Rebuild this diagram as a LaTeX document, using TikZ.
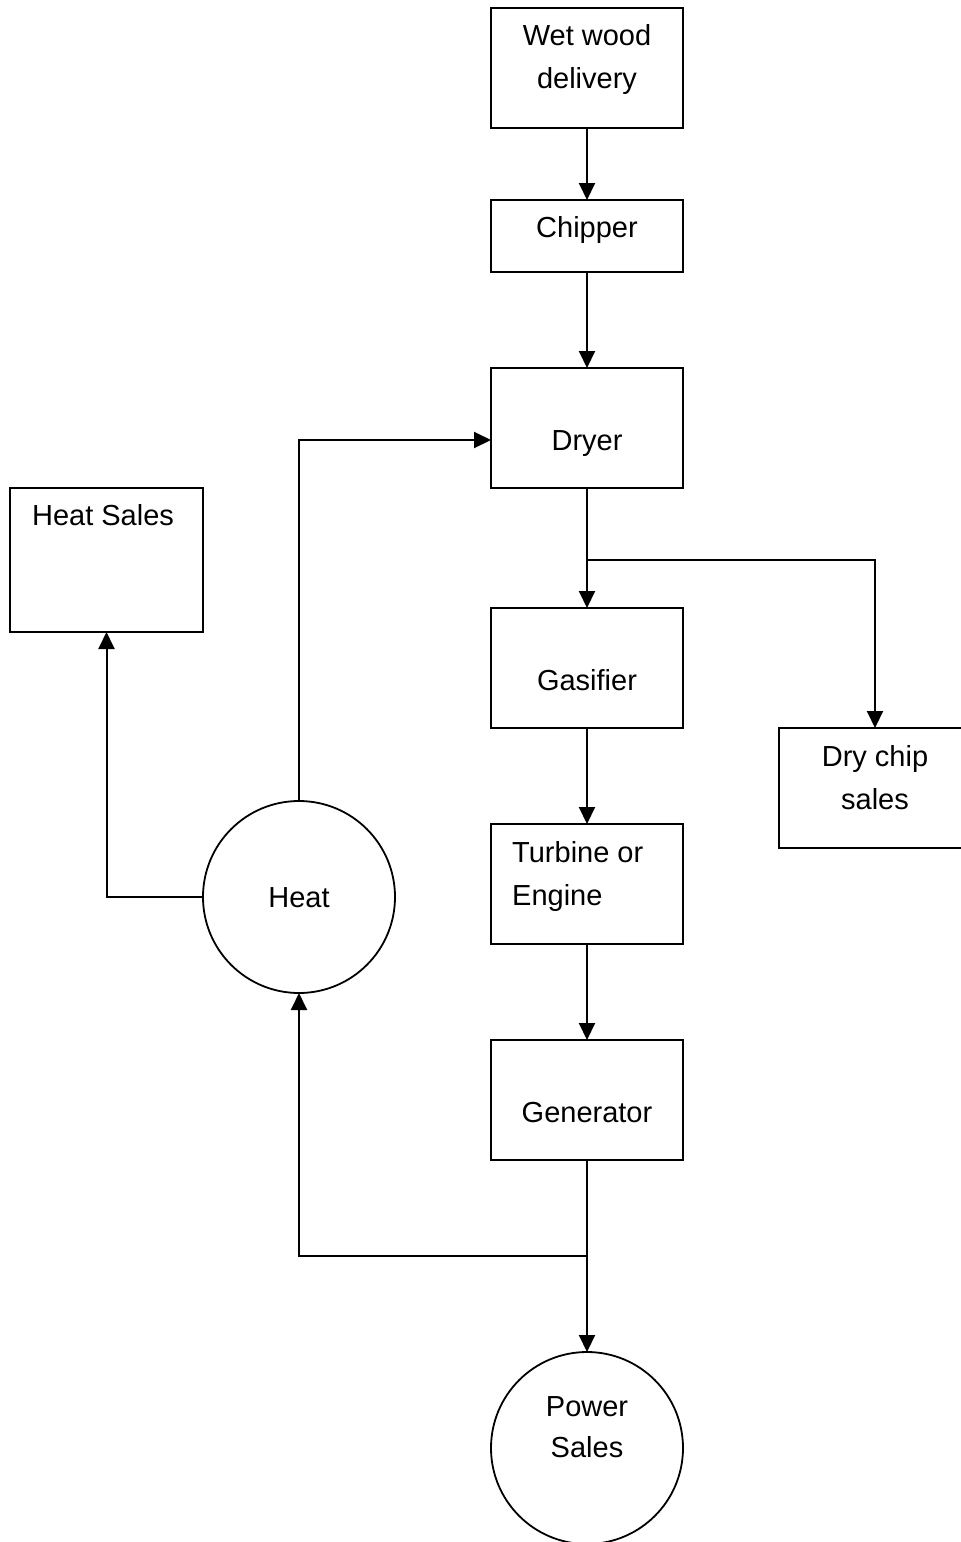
\documentclass[tikz,border=0pt]{standalone}
\usepackage{fontspec}
\setmainfont{Liberation Sans}
\usetikzlibrary{arrows.meta,calc}
\begin{document}
\begin{tikzpicture}[x=1pt,y=-1pt,
  every node/.style={font=\fontsize{29}{43.5}\selectfont},
  box/.style={draw,line width=2pt,rectangle,inner sep=0pt,outer sep=0pt,minimum width=192pt},
  circ/.style={draw,line width=1.8pt,circle,inner sep=0pt,outer sep=0pt,minimum size=192pt},
  txt/.style={anchor=base,inner sep=0pt},
  conn/.style={line width=2pt},
  arr/.style={line width=2pt,-{Triangle[length=17pt,width=16pt]}}]
\useasboundingbox (0,0) rectangle (961,1542);
\clip (0,0) rectangle (961,1542);
% boxes
\node[box,minimum height=120pt] (wet) at (587,68) {};
\node[box,minimum height=72pt] (chip) at (587,236) {};
\node[box,minimum height=120pt] (dryer) at (587,428) {};
\node[box,minimum width=193pt,minimum height=144pt] (hsales) at (106.5,560) {};
\node[box,minimum height=120pt] (gas) at (587,668) {};
\node[box,minimum height=120pt] (dchip) at (875,788) {};
\node[box,minimum height=120pt] (turb) at (587,884) {};
\node[circ] (heat) at (299,897) {};
\node[box,minimum height=120pt] (gen) at (587,1100) {};
\node[circ] (power) at (587,1448) {};
% texts
\node[txt] (t1) at (587,45) {Wet wood};
\node[txt] (t2) at (587,88) {delivery};
\node[txt] (t3) at (587,237) {Chipper};
\node[txt] (t4) at (587,450) {Dryer};
\node[txt] (t5) at (103,525) {Heat Sales};
\node[txt] (t6) at (587,690) {Gasifier};
\node[txt] (t7) at (875,766) {Dry chip};
\node[txt] (t8) at (875,809) {sales};
\node[txt,anchor=base west] (t9) at (512,862) {Turbine or};
\node[txt,anchor=base west] (t10) at (512,905) {Engine};
\node[txt] (t11) at (299,907) {Heat};
\node[txt] (t12) at (587,1122) {Generator};
\node[txt] (t13) at (587,1416) {Power};
\node[txt] (t14) at (587,1457) {Sales};
% junctions
\coordinate (j1) at (587,560);
\coordinate (j2) at (587,1256);
% connectors
\draw[arr] (wet.south) -- (chip.north);
\draw[arr] (chip.south) -- (dryer.north);
\draw[conn] (dryer.south) -- (j1);
\draw[arr] (j1) -- (gas.north);
\draw[arr] (j1) -| (dchip.north);
\draw[arr] (gas.south) -- (turb.north);
\draw[arr] (turb.south) -- (gen.north);
\draw[conn] (gen.south) -- (j2);
\draw[arr] (j2) -- (power.north);
\draw[arr] (j2) -| (heat.south);
\draw[arr] (heat.north) |- ([yshift=-12pt]dryer.west);
\draw[arr] (heat.west) -| (hsales.south);
\end{tikzpicture}
\end{document}
